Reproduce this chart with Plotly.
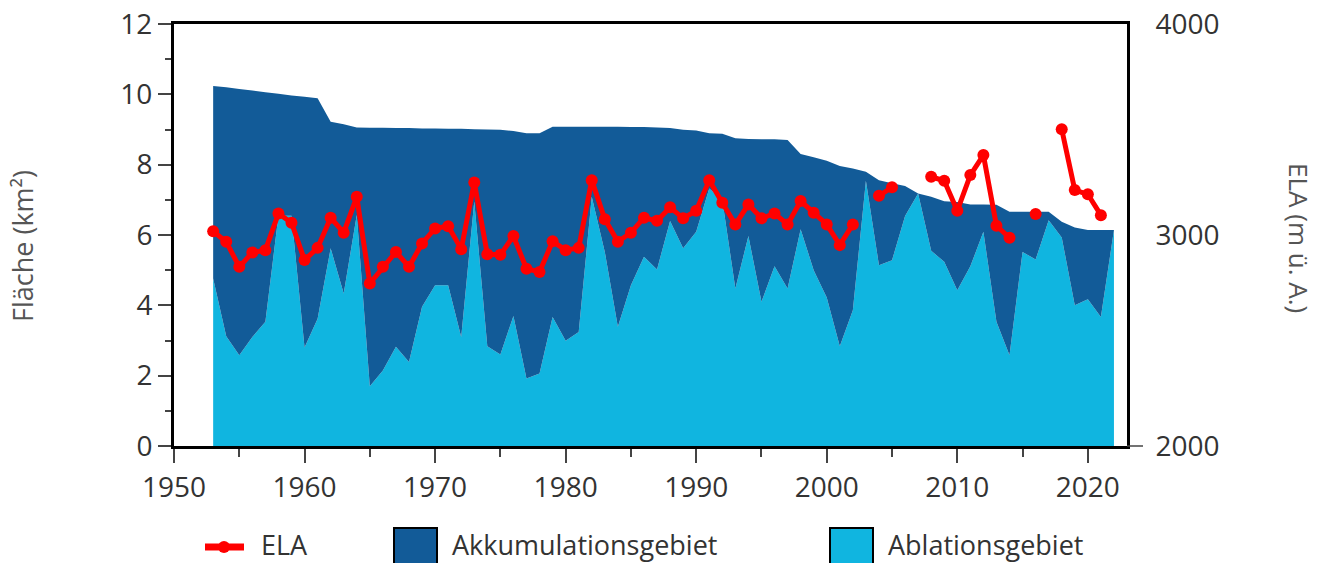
import plotly.graph_objects as go

years = list(range(1953, 2023))

total_area = [10.24, 10.20, 10.15, 10.11, 10.06, 10.02, 9.97, 9.93, 9.89, 9.22,
              9.15, 9.06, 9.05, 9.05, 9.04, 9.04, 9.03, 9.03, 9.02, 9.02,
              9.01, 9.00, 8.99, 8.96, 8.89, 8.89, 9.08, 9.08, 9.08, 9.08,
              9.08, 9.08, 9.07, 9.07, 9.06, 9.04, 8.99, 8.97, 8.89, 8.88,
              8.75, 8.73, 8.72, 8.72, 8.70, 8.30, 8.21, 8.11, 7.96, 7.89,
              7.80, 7.56, 7.47, 7.39, 7.18, 7.09, 6.96, 6.94, 6.87, 6.87,
              6.86, 6.66, 6.66, 6.66, 6.66, 6.38, 6.21, 6.14, 6.14, 6.14]

ablation = [4.76, 3.12, 2.58, 3.10, 3.53, 6.55, 6.55, 2.80, 3.62, 5.62,
            4.34, 6.57, 1.70, 2.15, 2.82, 2.39, 3.96, 4.57, 4.57, 3.10,
            6.95, 2.84, 2.60, 3.70, 1.92, 2.06, 3.67, 2.99, 3.24, 7.09,
            5.52, 3.39, 4.57, 5.38, 5.02, 6.40, 5.62, 6.09, 7.32, 6.99,
            4.48, 5.97, 4.10, 5.11, 4.48, 6.16, 5.00, 4.22, 2.84, 3.86,
            7.54, 5.14, 5.28, 6.54, 7.18, 5.55, 5.24, 4.43, 5.11, 6.09,
            3.53, 2.58, 5.52, 5.30, 6.42, 5.93, 4.00, 4.17, 3.67, 6.14]

ela_years = list(range(1953, 2022))
ela = [3018, 2968, 2849, 2917, 2928, 3102, 3058, 2881, 2939, 3082,
       3011, 3181, 2770, 2849, 2920, 2849, 2960, 3031, 3042, 2933,
       3249, 2909, 2906, 2995, 2840, 2825, 2970, 2928, 2939, 3260,
       3075, 2968, 3011, 3082, 3067, 3131, 3079, 3115, 3260, 3153,
       3050, 3145, 3079, 3102, 3050, 3161, 3105, 3050, 2952, 3050,
       None, 3186, 3226, None, None, 3276, 3257, 3115, 3284, 3379,
       3044, 2987, None, 3099, None, 3501, 3213, 3193, 3094]

accumulation = [round(t - a, 2) for t, a in zip(total_area, ablation)]

DARK = "#125b98"
LIGHT = "#10b5e0"
RED = "#ff0000"
FONT = "Open Sans"
TXT = "#333333"

fig = go.Figure()
fig.add_trace(go.Scatter(x=years, y=ablation, stackgroup="area", mode="none",
                         fillcolor=LIGHT, name="Ablationsgebiet", showlegend=False))
fig.add_trace(go.Scatter(x=years, y=accumulation, stackgroup="area", mode="none",
                         fillcolor=DARK, name="Akkumulationsgebiet", showlegend=False))
fig.add_trace(go.Scatter(x=ela_years, y=ela, yaxis="y2", mode="lines+markers",
                         line=dict(color=RED, width=5), marker=dict(color=RED, size=12),
                         connectgaps=False, name="ELA", showlegend=False))

W, H = 1319, 563
ml, mr, mt, mb = 174, 192, 24, 117
pw, ph = W - ml - mr, H - mt - mb

def px(x):
    return (x - ml) / pw

def py(y):
    return (mt + ph - y) / ph

shapes = [
    dict(type="line", xref="paper", yref="paper", x0=px(205), x1=px(244), y0=py(547), y1=py(547),
         line=dict(color=RED, width=7)),
    dict(type="circle", xref="paper", yref="paper", x0=px(218), x1=px(230), y0=py(541), y1=py(553),
         fillcolor=RED, line=dict(color=RED, width=0)),
    dict(type="rect", xref="paper", yref="paper", x0=px(394), x1=px(437), y0=py(528), y1=py(566),
         fillcolor=DARK, line=dict(color="black", width=2)),
    dict(type="rect", xref="paper", yref="paper", x0=px(830), x1=px(873), y0=py(528), y1=py(566),
         fillcolor=LIGHT, line=dict(color="black", width=2)),
    dict(type="line", xref="paper", yref="paper", x0=1, x1=px(1143), y0=0, y1=0,
         line=dict(color="#444444", width=1.5)),
]

annotations = [
    dict(text="ELA", xref="paper", yref="paper", x=px(259), y=py(544), xanchor="left", yanchor="middle",
         showarrow=False, font=dict(family=FONT, size=27, color=TXT)),
    dict(text="Akkumulationsgebiet", xref="paper", yref="paper", x=px(450), y=py(544), xanchor="left",
         yanchor="middle", showarrow=False, font=dict(family=FONT, size=27, color=TXT)),
    dict(text="Ablationsgebiet", xref="paper", yref="paper", x=px(886), y=py(544), xanchor="left",
         yanchor="middle", showarrow=False, font=dict(family=FONT, size=27, color=TXT)),
    dict(text="Fläche (km²)", xref="paper", yref="paper", x=px(22), y=py(246), xanchor="center",
         yanchor="middle", textangle=-90, showarrow=False, font=dict(family=FONT, size=27, color="#555555")),
    dict(text="ELA (m ü. A.)", xref="paper", yref="paper", x=px(1299), y=py(238), xanchor="center",
         yanchor="middle", textangle=90, showarrow=False, font=dict(family=FONT, size=26, color="#555555")),
]

fig.update_layout(
    width=W, height=H,
    margin=dict(l=ml, r=mr, t=mt, b=mb, autoexpand=False),
    paper_bgcolor="white", plot_bgcolor="white",
    font=dict(family=FONT, size=28, color=TXT),
    showlegend=False,
    shapes=shapes,
    annotations=annotations,
    xaxis=dict(range=[1950, 2023], tickvals=[1950, 1960, 1970, 1980, 1990, 2000, 2010, 2020],
               ticks="outside", ticklen=14, tickwidth=2, tickcolor="#444444",
               minor=dict(dtick=5, tick0=1950, ticks="outside", ticklen=8, tickwidth=2, tickcolor="#444444"),
               showline=True, linecolor="black", linewidth=3, mirror=True, automargin=False,
               showgrid=False, zeroline=False, tickfont=dict(size=28, color=TXT)),
    yaxis=dict(range=[0, 12], dtick=2, ticks="outside", ticklen=13, tickwidth=1.5, tickcolor="#444444",
               minor=dict(dtick=1, ticks="outside", ticklen=6, tickwidth=1.5, tickcolor="#444444"),
               showline=True, linecolor="black", linewidth=3, automargin=False,
               showgrid=False, zeroline=False, tickfont=dict(size=28, color=TXT)),
    yaxis2=dict(range=[2000, 4000], tickvals=[2000, 3000, 4000], overlaying="y", side="right",
                ticks="", ticklabelstandoff=20,
                showline=True, linecolor="black", linewidth=3, automargin=False,
                showgrid=False, zeroline=False, tickfont=dict(size=28, color=TXT)),
)

fig.write_html("out.html")
